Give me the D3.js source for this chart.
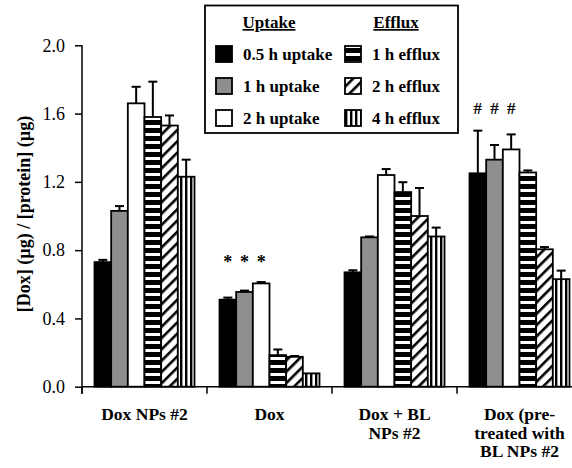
<!DOCTYPE html>
<html>
<head>
<meta charset="utf-8">
<script src="https://cdn.jsdelivr.net/npm/d3@7"></script>
<style>
  html, body { margin: 0; padding: 0; background: #fff; }
  svg { display: block; }
  svg text { font-family: "Liberation Serif", "Times New Roman", serif; fill: #000; }
</style>
</head>
<body>
<svg id="chart" width="572" height="468"></svg>
<script>
// Treatment groups (x categories) and their multi-line labels
const groups = ["Dox NPs #2", "Dox", "Dox + BL NPs #2", "Dox (pre-treated with BL NPs #2"];
const groupLabels = [
  ["Dox NPs #2"],
  ["Dox"],
  ["Dox + BL", "NPs #2"],
  ["Dox (pre-", "treated with", "BL NPs #2"]
];

// Measurement series
const series = ["0.5 h uptake", "1 h uptake", "2 h uptake", "1 h efflux", "2 h efflux", "4 h efflux"];

// Mean [Dox]/[protein] per group, one array per series
const uptake05 = [0.73, 0.51, 0.67, 1.25];
const uptake1  = [1.03, 0.555, 0.875, 1.33];
const uptake2  = [1.66, 0.605, 1.24, 1.39];
const efflux1  = [1.58, 0.185, 1.14, 1.255];
const efflux2  = [1.53, 0.175, 1.00, 0.805];
const efflux4  = [1.23, 0.078, 0.88, 0.63];

// Standard deviations (upper error bars)
const err05 = [0.013, 0.012, 0.012, 0.25];
const err1  = [0.028, 0.008, 0.005, 0.086];
const err2  = [0.097, 0.008, 0.035, 0.088];
const errE1 = [0.207, 0.033, 0.058, 0.012];
const errE2 = [0.059, 0.005, 0.164, 0.013];
const errE4 = [0.10, 0.0, 0.052, 0.05];

const yTicks = [0.0, 0.4, 0.8, 1.2, 1.6, 2.0];
const yTitle = "[Dox] (µg) / [protein] (µg)";

// Significance markers: group index and symbol over the three uptake bars
const markers = [{ group: 1, symbol: "*" }, { group: 3, symbol: "#" }];

const values = [uptake05, uptake1, uptake2, efflux1, efflux2, efflux4];
const errors = [err05, err1, err2, errE1, errE2, errE4];

const FONT = "'Liberation Serif', 'Times New Roman', serif";
const svg = d3.select("#chart");
const plotLeft = 82, plotTop = 45.3, plotBottom = 386.7;

const x0 = d3.scaleBand().domain(groups).range([plotLeft, plotLeft + 500]).paddingInner(0).paddingOuter(0);
const x1 = d3.scaleBand().domain(series).range([0, x0.bandwidth()]).paddingInner(0).paddingOuter(0.75);
const y = d3.scaleLinear().domain([0, 2]).range([plotBottom, plotTop]);

// Fill patterns
const defs = svg.append("defs");
const hp = defs.append("pattern").attr("id", "pat-h").attr("patternUnits", "userSpaceOnUse")
  .attr("width", 8).attr("height", 8);
hp.append("rect").attr("width", 8).attr("height", 8).attr("fill", "#000");
hp.append("rect").attr("y", 5).attr("width", 8).attr("height", 3).attr("fill", "#fff");

const dp = defs.append("pattern").attr("id", "pat-d").attr("patternUnits", "userSpaceOnUse")
  .attr("width", 8).attr("height", 8).attr("patternTransform", "rotate(45)");
dp.append("rect").attr("width", 8).attr("height", 8).attr("fill", "#fff");
dp.append("rect").attr("x", 0).attr("width", 2.6).attr("height", 8).attr("fill", "#000");

const vp = defs.append("pattern").attr("id", "pat-v").attr("patternUnits", "userSpaceOnUse")
  .attr("width", 5).attr("height", 5);
vp.append("rect").attr("width", 5).attr("height", 5).attr("fill", "#fff");
vp.append("rect").attr("x", 0).attr("width", 2.4).attr("height", 5).attr("fill", "#000");

const fills = ["#000", "#8f8f8f", "#fff", "url(#pat-h)", "url(#pat-d)", "url(#pat-v)"];
const fill = d3.scaleOrdinal().domain(series).range(fills);

// Bars and error bars
const rows = [];
groups.forEach((g, gi) => series.forEach((s, si) => {
  rows.push({ g, s, v: values[si][gi], e: errors[si][gi] });
}));

const barG = svg.append("g");
barG.selectAll("g.err").data(rows.filter(d => d.e > 0)).join("g").attr("class", "err").each(function (d) {
  const cx = x0(d.g) + x1(d.s) + x1.bandwidth() / 2;
  const g = d3.select(this);
  g.append("line").attr("x1", cx).attr("x2", cx).attr("y1", y(d.v)).attr("y2", y(d.v + d.e))
    .attr("stroke", "#000").attr("stroke-width", 2);
  g.append("line").attr("x1", cx - 4.5).attr("x2", cx + 4.5).attr("y1", y(d.v + d.e)).attr("y2", y(d.v + d.e))
    .attr("stroke", "#000").attr("stroke-width", 2);
});
barG.selectAll("rect.bar").data(rows).join("rect").attr("class", "bar")
  .attr("x", d => x0(d.g) + x1(d.s))
  .attr("y", d => y(d.v))
  .attr("width", x1.bandwidth())
  .attr("height", d => y(0) - y(d.v))
  .attr("fill", d => fill(d.s))
  .attr("stroke", "#000").attr("stroke-width", 1.8);

// Significance markers, set above the tallest uptake error bar of the group
markers.forEach(m => {
  const g = groups[m.group];
  const peak = d3.max([0, 1, 2], si => values[si][m.group] + errors[si][m.group]);
  const base = m.symbol === "*" ? y(peak) - 14 : y(peak) - 17;
  series.slice(0, 3).forEach(s => {
    svg.append("text")
      .attr("x", x0(g) + x1(s) + x1.bandwidth() / 2)
      .attr("y", base)
      .attr("text-anchor", "middle")
      .attr("font-family", FONT)
      .attr("font-size", m.symbol === "*" ? 18 : 17)
      .attr("font-weight", "bold")
      .text(m.symbol);
  });
});

// Y axis
const yAxis = d3.axisLeft(y).tickValues(yTicks).tickFormat(d3.format(".1f")).tickSize(7).tickPadding(10).tickSizeOuter(0);
const ya = svg.append("g").attr("transform", `translate(${plotLeft},0)`).call(yAxis);
ya.attr("font-family", FONT);
ya.select(".domain").remove();
ya.append("line").attr("x1", 0).attr("x2", 0).attr("y1", plotTop).attr("y2", plotBottom + 7).attr("stroke", "#000").attr("stroke-width", 1.5);
ya.selectAll(".tick line").attr("stroke", "#000").attr("stroke-width", 1.5);
ya.selectAll(".tick text").attr("font-size", 18).attr("fill", "#000").attr("font-family", FONT);

// X axis
const xa = svg.append("g");
xa.append("line").attr("x1", plotLeft).attr("x2", 572).attr("y1", plotBottom).attr("y2", plotBottom)
  .attr("stroke", "#000").attr("stroke-width", 1.5);
xa.selectAll("line.tk").data(groups).join("line").attr("class", "tk")
  .attr("x1", d => x0(d)).attr("x2", d => x0(d))
  .attr("y1", plotBottom).attr("y2", plotBottom + 7)
  .attr("stroke", "#000").attr("stroke-width", 1.5);
xa.selectAll("text.gl").data(groups).join("text").attr("class", "gl")
  .attr("x", d => x0(d) + x0.bandwidth() / 2)
  .attr("y", 420)
  .attr("text-anchor", "middle")
  .attr("font-family", FONT)
  .attr("font-size", 17.5).attr("font-weight", "bold")
  .each(function (d, i) {
    const t = d3.select(this);
    groupLabels[i].forEach((line, li) => {
      t.append("tspan").attr("x", x0(d) + x0.bandwidth() / 2).attr("dy", li === 0 ? 0 : 18.5).text(line);
    });
  });

// Y title
svg.append("text")
  .attr("transform", `translate(30,${(plotTop + plotBottom) / 2 - 2}) rotate(-90)`)
  .attr("text-anchor", "middle")
  .attr("font-family", FONT)
  .attr("font-size", 18).attr("font-weight", "bold")
  .text(yTitle);

// Legend
const lg = svg.append("g");
lg.append("rect").attr("x", 205).attr("y", 5.5).attr("width", 253).attr("height", 127.5)
  .attr("fill", "#fff").attr("stroke", "#000").attr("stroke-width", 1.8);
[["Uptake", 269], ["Efflux", 396]].forEach(([t, cx]) => {
  lg.append("text").attr("x", cx).attr("y", 28).attr("text-anchor", "middle")
    .attr("font-family", FONT)
    .attr("font-size", 17).attr("font-weight", "bold").attr("text-decoration", "underline").text(t);
});
series.forEach((s, i) => {
  const col = Math.floor(i / 3), row = i % 3;
  const sx = col === 0 ? 216 : 345;
  const cy = 54 + row * 32;
  lg.append("rect").attr("x", sx).attr("y", cy - 8).attr("width", 16).attr("height", 16)
    .attr("fill", fill(s)).attr("stroke", "#000").attr("stroke-width", 1.8);
  lg.append("text").attr("x", sx + 27).attr("y", cy + 6)
    .attr("font-family", FONT)
    .attr("font-size", 17).attr("font-weight", "bold").text(s);
});
</script>
</body>
</html>
